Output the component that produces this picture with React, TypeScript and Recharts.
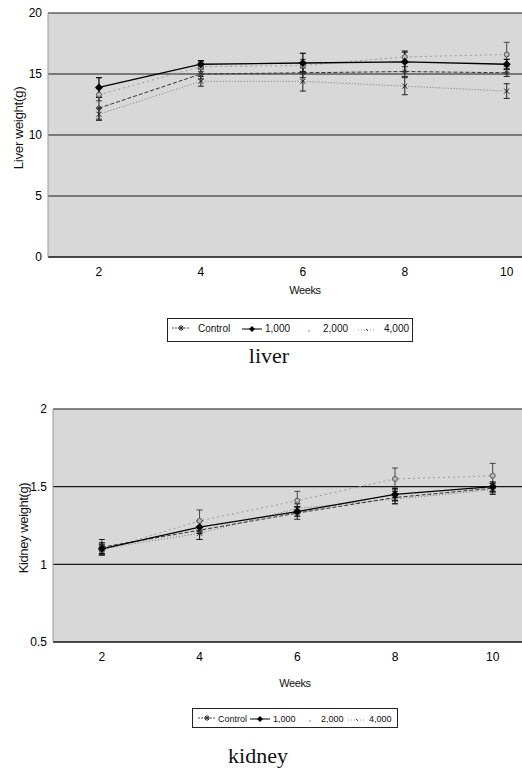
import React from "react";
import { LineChart, Line, XAxis, YAxis, CartesianGrid, ErrorBar } from "recharts";

const weeks = [2, 4, 6, 8, 10];
const xTicks = [2, 4, 6, 8, 10];

const liverControl = [12.2, 15.0, 15.1, 15.2, 15.1];
const liverControlErr = [0.9, 0.4, 0.4, 0.4, 0.3];
const liver1000 = [13.9, 15.8, 15.9, 16.0, 15.8];
const liver1000Err = [0.8, 0.3, 0.8, 0.8, 0.4];
const liver2000 = [13.3, 15.6, 15.7, 16.4, 16.6];
const liver2000Err = [0.5, 0.4, 0.5, 0.5, 1.0];
const liver4000 = [11.7, 14.4, 14.4, 14.0, 13.6];
const liver4000Err = [0.5, 0.4, 0.8, 0.7, 0.6];
const liverTicks = [0, 5, 10, 15, 20];

const kidneyControl = [1.11, 1.22, 1.33, 1.43, 1.49];
const kidneyControlErr = [0.05, 0.06, 0.04, 0.04, 0.03];
const kidney1000 = [1.1, 1.24, 1.34, 1.45, 1.5];
const kidney1000Err = [0.03, 0.04, 0.03, 0.04, 0.03];
const kidney2000 = [1.09, 1.28, 1.41, 1.55, 1.57];
const kidney2000Err = [0.03, 0.07, 0.06, 0.07, 0.08];
const kidney4000 = [1.1, 1.2, 1.36, 1.42, 1.48];
const kidney4000Err = [0.04, 0.04, 0.03, 0.03, 0.03];
const kidneyTicks = [0.5, 1, 1.5, 2];

const seriesNames = ["Control", "1,000", "2,000", "4,000"];

const build = (c: number[], ce: number[], a: number[], ae: number[], b: number[], be: number[], d: number[], de: number[]) =>
  weeks.map((w, i) => ({
    week: w,
    control: c[i], controlErr: ce[i],
    d1000: a[i], d1000Err: ae[i],
    d2000: b[i], d2000Err: be[i],
    d4000: d[i], d4000Err: de[i],
  }));

const liverData = build(liverControl, liverControlErr, liver1000, liver1000Err, liver2000, liver2000Err, liver4000, liver4000Err);
const kidneyData = build(kidneyControl, kidneyControlErr, kidney1000, kidney1000Err, kidney2000, kidney2000Err, kidney4000, kidney4000Err);

const starDot = (p: any) => {
  const { cx, cy, index } = p;
  if (cx == null || cy == null) return <g key={"s" + index} />;
  return (
    <g key={"s" + index} stroke="#333" strokeWidth={1}>
      <line x1={cx - 3} y1={cy} x2={cx + 3} y2={cy} />
      <line x1={cx} y1={cy - 3} x2={cx} y2={cy + 3} />
      <line x1={cx - 2} y1={cy - 2} x2={cx + 2} y2={cy + 2} />
      <line x1={cx - 2} y1={cy + 2} x2={cx + 2} y2={cy - 2} />
    </g>
  );
};
const diamondDot = (p: any) => {
  const { cx, cy, index } = p;
  if (cx == null || cy == null) return <g key={"d" + index} />;
  return <path key={"d" + index} d={`M${cx},${cy - 4}L${cx + 4},${cy}L${cx},${cy + 4}L${cx - 4},${cy}Z`} fill="#000" />;
};
const circleDot = (p: any) => {
  const { cx, cy, index } = p;
  if (cx == null || cy == null) return <g key={"c" + index} />;
  return <circle key={"c" + index} cx={cx} cy={cy} r={2.5} fill="#bbb" stroke="#555" strokeWidth={1} />;
};
const xDot = (p: any) => {
  const { cx, cy, index } = p;
  if (cx == null || cy == null) return <g key={"x" + index} />;
  return (
    <g key={"x" + index} stroke="#222" strokeWidth={1}>
      <line x1={cx - 2.5} y1={cy - 2.5} x2={cx + 2.5} y2={cy + 2.5} />
      <line x1={cx - 2.5} y1={cy + 2.5} x2={cx + 2.5} y2={cy - 2.5} />
    </g>
  );
};

const tickStyle = { fontFamily: "Liberation Sans, Arial, sans-serif", fontSize: 12, fill: "#000" };

function Chart(props: {
  data: any[];
  width: number;
  height: number;
  top: number;
  yWidth: number;
  xDomain: [number, number];
  yDomain: [number, number];
  yTicks: number[];
  xHeight: number;
}) {
  const { data, width, height, top, yWidth, xDomain, yDomain, yTicks, xHeight } = props;
  return (
    <LineChart width={width} height={height} data={data} margin={{ top, right: 0, left: 0, bottom: 0 }}>
      <CartesianGrid vertical={false} horizontal={true} stroke="#1a1a1a" strokeWidth={1.2} fill="#d8d8d8" fillOpacity={1} />
      <XAxis
        dataKey="week"
        type="number"
        domain={xDomain}
        ticks={xTicks}
        allowDataOverflow
        height={xHeight}
        tickLine={false}
        axisLine={{ stroke: "#111", strokeWidth: 1.2 }}
        tick={tickStyle}
        tickMargin={4}
      />
      <YAxis
        type="number"
        domain={yDomain}
        ticks={yTicks}
        width={yWidth}
        tickLine={false}
        axisLine={{ stroke: "#999", strokeWidth: 1 }}
        tick={tickStyle}
        tickMargin={0}
        interval={0}
        allowDataOverflow
      />
      <Line dataKey="d2000" name={seriesNames[2]} stroke="#9a9a9a" strokeWidth={1} strokeDasharray="2 3" dot={circleDot} isAnimationActive={false}>
        <ErrorBar dataKey="d2000Err" direction="y" width={3} stroke="#444" strokeWidth={1} />
      </Line>
      <Line dataKey="d4000" name={seriesNames[3]} stroke="#777" strokeWidth={1} strokeDasharray="1 2" dot={xDot} isAnimationActive={false}>
        <ErrorBar dataKey="d4000Err" direction="y" width={3} stroke="#222" strokeWidth={1} />
      </Line>
      <Line dataKey="control" name={seriesNames[0]} stroke="#333" strokeWidth={1} strokeDasharray="4 2" dot={starDot} isAnimationActive={false}>
        <ErrorBar dataKey="controlErr" direction="y" width={3} stroke="#222" strokeWidth={1} />
      </Line>
      <Line dataKey="d1000" name={seriesNames[1]} stroke="#000" strokeWidth={1.3} dot={diamondDot} isAnimationActive={false}>
        <ErrorBar dataKey="d1000Err" direction="y" width={3} stroke="#000" strokeWidth={1.2} />
      </Line>
    </LineChart>
  );
}

const sans = "Liberation Sans, Arial, sans-serif";

function LegendBox(props: { left: number; top: number; width: number; height: number; fs: number; pos: number[] }) {
  const { left, top, width, height, fs, pos } = props;
  const ty = 10;
  return (
    <svg style={{ position: "absolute", left, top }} width={width} height={height}>
      <rect x={0.5} y={0.5} width={width - 1} height={height - 1} fill="#fff" stroke="#222" strokeWidth={1} />
      <line x1={pos[0] - 9} y1={ty} x2={pos[0] + 9} y2={ty} stroke="#555" strokeDasharray="2 1" />
      {starDot({ cx: pos[0], cy: ty, index: 100 })}
      <text x={pos[1]} y={ty + 3.5} fontFamily={sans} fontSize={fs} fill="#111">{seriesNames[0]}</text>
      <line x1={pos[2] - 10} y1={ty + 1} x2={pos[2] + 10} y2={ty + 1} stroke="#000" />
      <path d={`M${pos[2]},${ty - 2}L${pos[2] + 3},${ty + 1}L${pos[2]},${ty + 4}L${pos[2] - 3},${ty + 1}Z`} fill="#000" />
      <text x={pos[3]} y={ty + 3.5} fontFamily={sans} fontSize={fs} fill="#111">{seriesNames[1]}</text>
      <circle cx={pos[4]} cy={ty + 3} r={0.8} fill="#777" />
      <text x={pos[5]} y={ty + 3.5} fontFamily={sans} fontSize={fs} fill="#111">{seriesNames[2]}</text>
      <line x1={pos[6] - 9} y1={ty + 2} x2={pos[6] + 9} y2={ty + 2} stroke="#999" strokeDasharray="1 2" />
      <line x1={pos[6] - 1} y1={ty + 1} x2={pos[6] + 1} y2={ty + 3} stroke="#444" />
      <text x={pos[7]} y={ty + 3.5} fontFamily={sans} fontSize={fs} fill="#111">{seriesNames[3]}</text>
    </svg>
  );
}

const labelStyle: React.CSSProperties = {
  position: "absolute",
  fontFamily: sans,
  color: "#111",
  whiteSpace: "nowrap",
  letterSpacing: -0.4,
};

export default function App() {
  return (
    <div style={{ position: "absolute", left: 0, top: 0, width: 522, height: 774, background: "#fff", overflow: "hidden" }}>
      <div style={{ position: "absolute", left: 0, top: 0 }}>
        <Chart data={liverData} width={522} height={283} top={13} yWidth={48} xDomain={[1, 10.3]} yDomain={[0, 20]} yTicks={liverTicks} xHeight={26} />
      </div>
      <div style={{ ...labelStyle, fontSize: 13.5, left: 18, top: 128, transform: "translate(-50%, -50%) rotate(-90deg)" }}>Liver weight(g)</div>
      <div style={{ ...labelStyle, fontSize: 11, left: 305, top: 290, transform: "translate(-50%, -50%)" }}>Weeks</div>
      <LegendBox left={167} top={318} width={246} height={24} fs={10} pos={[14, 31, 85, 98, 142, 156, 200, 217]} />
      <div style={{ position: "absolute", left: 269, top: 356, transform: "translate(-50%, -50%)", fontFamily: "Liberation Serif, Times New Roman, serif", fontSize: 22, color: "#111" }}>liver</div>

      <div style={{ position: "absolute", left: 0, top: 395 }}>
        <Chart data={kidneyData} width={522} height={275} top={14} yWidth={53} xDomain={[1, 10.6]} yDomain={[0.5, 2]} yTicks={kidneyTicks} xHeight={28} />
      </div>
      <div style={{ ...labelStyle, fontSize: 13, left: 23, top: 528, transform: "translate(-50%, -50%) rotate(-90deg)" }}>Kidney weight(g)</div>
      <div style={{ ...labelStyle, fontSize: 11, left: 295, top: 683, transform: "translate(-50%, -50%)" }}>Weeks</div>
      <LegendBox left={192} top={708} width={206} height={20} fs={9} pos={[15, 26, 68, 81, 118, 129, 165, 177]} />
      <div style={{ position: "absolute", left: 258, top: 756, transform: "translate(-50%, -50%)", fontFamily: "Liberation Serif, Times New Roman, serif", fontSize: 22, color: "#111" }}>kidney</div>
    </div>
  );
}
